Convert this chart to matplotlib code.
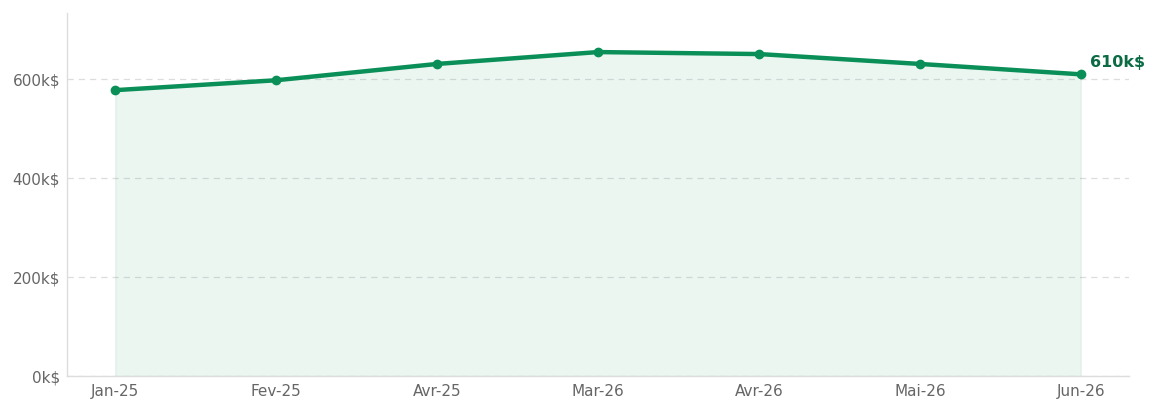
import matplotlib
matplotlib.use("Agg")
import matplotlib.pyplot as plt
from matplotlib.ticker import FuncFormatter

months = ["Jan-25", "Fev-25", "Avr-25", "Mar-26", "Avr-26", "Mai-26", "Jun-26"]
values_k = [578, 598, 631, 655, 651, 631, 610]
yticks = [0, 200, 400, 600]

line_color = "#0b8f58"
label_color = "#0a6b44"

fig = plt.figure(figsize=(11.6, 4.11), dpi=100)
ax = fig.add_axes([67/1160, 1 - 376/411, (1129-67)/1160, (376-13)/411])

x = list(range(len(months)))
ax.fill_between(x, values_k, 0, color=line_color, alpha=0.08, linewidth=1)
ax.plot(x, values_k, color=line_color, linewidth=3.2, marker="o", markersize=6, zorder=3,
        solid_capstyle="round")

ax.annotate(f"{values_k[-1]}k$", xy=(x[-1], values_k[-1]), xytext=(7, 3),
            textcoords="offset points", color=label_color, fontsize=11.5,
            fontweight="bold", ha="left", va="bottom")

ax.set_xlim(-0.3, len(months) - 1 + 0.3)
ax.set_ylim(0, 734)
ax.set_xticks(x)
ax.set_xticklabels(months)
ax.set_yticks(yticks)
ax.yaxis.set_major_formatter(FuncFormatter(lambda v, p: f"{int(v)}k$"))
ax.tick_params(axis="y", length=0, labelsize=11, colors="#666666", pad=5)
ax.tick_params(axis="x", length=0, labelsize=11, colors="#666666", pad=6)
ax.grid(axis="y", linestyle=(0, (5, 4)), color="#dddddd", linewidth=0.9)
ax.set_axisbelow(True)
for s in ["top", "right"]:
    ax.spines[s].set_visible(False)
for s in ["left", "bottom"]:
    ax.spines[s].set_color("#dddddd")
    ax.spines[s].set_linewidth(1)

fig.savefig("out.png", dpi=100)
